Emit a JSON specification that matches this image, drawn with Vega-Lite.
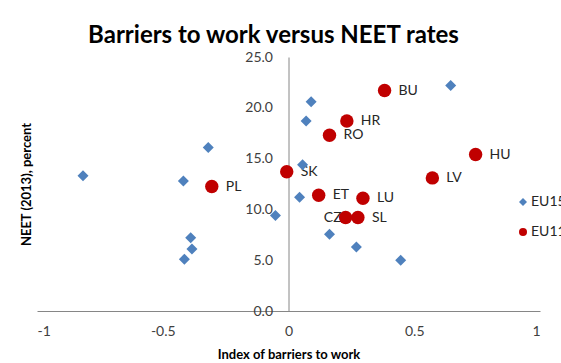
{
  "$schema": "https://vega.github.io/schema/vega-lite/v6.json",
  "width": 503,
  "height": 254,
  "autosize": "none",
  "padding": {"left": 37, "top": 57, "right": 21, "bottom": 52},
  "background": "white",
  "title": {
    "text": "Barriers to work versus NEET rates",
    "font": "Lato",
    "fontSize": 24,
    "fontWeight": "bold",
    "color": "#000000",
    "anchor": "middle",
    "frame": "group",
    "baseline": "alphabetic",
    "offset": -17,
    "dx": -15
  },
  "config": {
    "view": {"stroke": null},
    "font": "Lato",
    "axis": {
      "grid": false,
      "ticks": false,
      "tickSize": 0,
      "domainColor": "#868686",
      "labelFont": "Lato",
      "labelFontSize": 14,
      "labelColor": "#404040",
      "titleFont": "Lato",
      "titleFontSize": 13,
      "titleFontWeight": "bold",
      "titleColor": "#000000"
    }
  },
  "data": {
    "values": [
      {"group": "EU15", "x": -0.817, "y": 13.3, "label": ""},
      {"group": "EU15", "x": -0.418, "y": 12.8, "label": ""},
      {"group": "EU15", "x": -0.319, "y": 16.1, "label": ""},
      {"group": "EU15", "x": -0.389, "y": 7.2, "label": ""},
      {"group": "EU15", "x": -0.384, "y": 6.1, "label": ""},
      {"group": "EU15", "x": -0.414, "y": 5.1, "label": ""},
      {"group": "EU15", "x": -0.052, "y": 9.4, "label": ""},
      {"group": "EU15", "x": 0.044, "y": 11.2, "label": ""},
      {"group": "EU15", "x": 0.056, "y": 14.4, "label": ""},
      {"group": "EU15", "x": 0.07, "y": 18.7, "label": ""},
      {"group": "EU15", "x": 0.09, "y": 20.6, "label": ""},
      {"group": "EU15", "x": 0.163, "y": 7.55, "label": ""},
      {"group": "EU15", "x": 0.27, "y": 6.3, "label": ""},
      {"group": "EU15", "x": 0.446, "y": 5.0, "label": ""},
      {"group": "EU15", "x": 0.645, "y": 22.2, "label": ""},
      {"group": "EU11", "x": -0.305, "y": 12.25, "label": "PL"},
      {"group": "EU11", "x": -0.007, "y": 13.7, "label": "SK"},
      {"group": "EU11", "x": 0.12, "y": 11.4, "label": "ET"},
      {"group": "EU11", "x": 0.296, "y": 11.1, "label": "LU"},
      {"group": "EU11", "x": 0.227, "y": 9.2, "label": "CZ"},
      {"group": "EU11", "x": 0.276, "y": 9.2, "label": "SL"},
      {"group": "EU11", "x": 0.163, "y": 17.3, "label": "RO"},
      {"group": "EU11", "x": 0.232, "y": 18.7, "label": "HR"},
      {"group": "EU11", "x": 0.382, "y": 21.7, "label": "BU"},
      {"group": "EU11", "x": 0.744, "y": 15.4, "label": "HU"},
      {"group": "EU11", "x": 0.572, "y": 13.1, "label": "LV"}
    ]
  },
  "encoding": {
    "x": {
      "field": "x",
      "type": "quantitative",
      "scale": {"domain": [-1, 1], "nice": false, "zero": false},
      "axis": {
        "title": "Index of barriers to work",
        "values": [-1, -0.5, 0, 0.5, 1],
        "labelExpr": "toString(datum.value)",
        "labelPadding": 13,
        "titlePadding": 10
      }
    },
    "y": {
      "field": "y",
      "type": "quantitative",
      "scale": {"domain": [0, 25], "nice": false},
      "axis": {
        "title": "NEET (2013), percent",
        "values": [0, 5, 10, 15, 20, 25],
        "format": ".1f",
        "offset": -251.5,
        "labelPadding": 16,
        "titleX": -262,
        "titleBaseline": "middle"
      }
    }
  },
  "layer": [
    {
      "transform": [{"filter": "datum.label != '' && datum.label != 'CZ'"}],
      "mark": {"type": "text", "align": "left", "baseline": "middle", "dx": 14, "font": "Lato", "fontSize": 14, "color": "#262626"},
      "encoding": {"text": {"field": "label"}}
    },
    {
      "transform": [{"filter": "datum.label == 'CZ'"}],
      "mark": {"type": "text", "align": "right", "baseline": "middle", "dx": -4, "font": "Lato", "fontSize": 14, "color": "#262626"},
      "encoding": {"text": {"field": "label"}}
    },
    {
      "transform": [{"filter": "datum.group == 'EU15'"}],
      "mark": {"type": "point", "filled": true, "opacity": 1, "size": 121},
      "encoding": {
        "color": {"field": "group", "type": "nominal", "scale": {"domain": ["EU15", "EU11"], "range": ["#4F81BD", "#C00000"]},
          "legend": {"title": null, "orient": "none", "legendX": 479, "legendY": 138, "symbolSize": 64, "labelFont": "Lato", "labelFontSize": 14, "labelColor": "#262626", "rowPadding": 16, "labelOffset": 1, "padding": 0}},
        "shape": {"field": "group", "type": "nominal", "scale": {"domain": ["EU15", "EU11"], "range": ["diamond", "circle"]}}
      }
    },
    {
      "transform": [{"filter": "datum.group == 'EU11'"}],
      "mark": {"type": "point", "filled": true, "opacity": 1, "size": 180},
      "encoding": {
        "color": {"field": "group", "type": "nominal"},
        "shape": {"field": "group", "type": "nominal"}
      }
    }
  ]
}
